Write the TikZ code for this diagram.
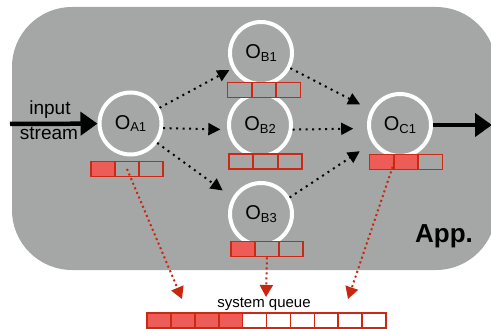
\documentclass[tikz,border=0pt]{standalone}
\usepackage{fontspec}
\setmainfont{Liberation Sans}
\usepackage{xcolor}
\usetikzlibrary{arrows.meta}
\definecolor{appgray}{RGB}{165,167,166}
\definecolor{qfill}{RGB}{238,92,88}
\definecolor{qred}{RGB}{204,40,20}
\definecolor{qarrow}{RGB}{200,38,14}
\newcommand{\oplabel}[1]{O\raisebox{-2.5pt}{\fontsize{13}{13}\selectfont #1}}
\tikzset{
    opnode/.style={circle, draw=white, line width=4pt, minimum size=62pt,
                   inner sep=0pt, font=\fontsize{20}{20}\selectfont},
    qcell/.style={rectangle, draw=qred, line width=1.6pt, minimum width=24pt,
                  minimum height=15pt, inner sep=0pt},
    lbl/.style={inner sep=0pt, anchor=base, font=\fontsize{19}{19}\selectfont},
    flow/.style={-{Triangle[length=17pt, width=23pt]}, line width=4.5pt, draw=black},
    dotarr/.style={-{Triangle[length=12pt, width=12pt]}, line width=2pt,
                   dash pattern=on 2pt off 4.5pt, draw=black},
    qarr/.style={-{Triangle[length=12pt, width=13pt]}, line width=2pt,
                 dash pattern=on 2pt off 3pt, draw=qarrow}
}

\begin{document}
\begin{tikzpicture}[x=1pt, y=-1pt]
\clip (0,0) rectangle (491,329);
% ── Application area ──────────────────────────────────────────────────
\fill[appgray, rounded corners=60pt] (12,7) rectangle (496,270);
\node[lbl, font=\fontsize{26}{26}\selectfont\bfseries] (app) at (444,243) {App.};

% ── Operators ─────────────────────────────────────────────────────────
\node[opnode] at (130.5,123.5) (a1) {\oplabel{A1}};
\node[opnode] at (261,53)      (b1) {\oplabel{B1}};
\node[opnode] at (260,125)     (b2) {\oplabel{B2}};
\node[opnode] at (261,214)     (b3) {\oplabel{B3}};
\node[opnode] at (400,125)     (c1) {\oplabel{C1}};

% ── Operator queues ───────────────────────────────────────────────────
\foreach \i/\f in {0/qfill,1/appgray,2/appgray}
    \node[qcell, fill=\f] (a1q\i) at (103+24*\i,169) {};
\foreach \i/\f in {0/appgray,1/appgray,2/appgray}
    \node[qcell, fill=\f] (b1q\i) at (239.5+24.5*\i,90) {};
\foreach \i/\f in {0/appgray,1/appgray,2/appgray}
    \node[qcell, fill=\f] (b2q\i) at (241+24.5*\i,161.5) {};
\foreach \i/\f in {0/qfill,1/appgray,2/appgray}
    \node[qcell, fill=\f] (b3q\i) at (243+24*\i,249) {};
\foreach \i/\f in {0/qfill,1/qfill,2/appgray}
    \node[qcell, fill=\f] (c1q\i) at (381.5+24.5*\i,162) {};

% ── System queue ──────────────────────────────────────────────────────
\foreach \i in {0,...,9} {
    \ifnum\i<4 \def\f{qfill}\else\def\f{white}\fi
    \node[qcell, fill=\f] (sysq\i) at (159+23.9*\i,320.5) {};
}
\node[lbl, font=\fontsize{15}{15}\selectfont] (syslbl) at (264,307) {system queue};

% ── Input / output stream ─────────────────────────────────────────────
\coordinate (in)  at (10,124);
\coordinate (out) at (492,125);
\node[lbl] (inlbl)  at (50,115) {input};
\node[lbl] (strlbl) at (49,140) {stream};
\draw[flow] (in) -- (a1);
\draw[flow] (c1) -- (out);

% ── Dataflow between operators ────────────────────────────────────────
\draw[dotarr, shorten >=3pt]  (a1) -- (b1);
\draw[dotarr, shorten >=7pt]  (a1.-8) -- (b2.188);
\draw[dotarr, shorten >=12pt] (a1.-36) -- (b3.150);
\draw[dotarr, shorten >=12pt] (b1) -- (c1);
\draw[dotarr, shorten >=14pt] (b2.-8) -- (c1.186);
\draw[dotarr, shorten >=15pt] (b3.30) -- (c1.213);

% ── Queues to system queue ────────────────────────────────────────────
\coordinate (sqa) at (182,299);
\coordinate (sqb) at (266,297);
\coordinate (sqc) at (348,299);
\draw[qarr] (a1q1.center) -- (sqa);
\draw[qarr] (b3q1.south)  -- (sqb);
\draw[qarr] (c1q0.east)   -- (sqc);
\end{tikzpicture}
\end{document}
